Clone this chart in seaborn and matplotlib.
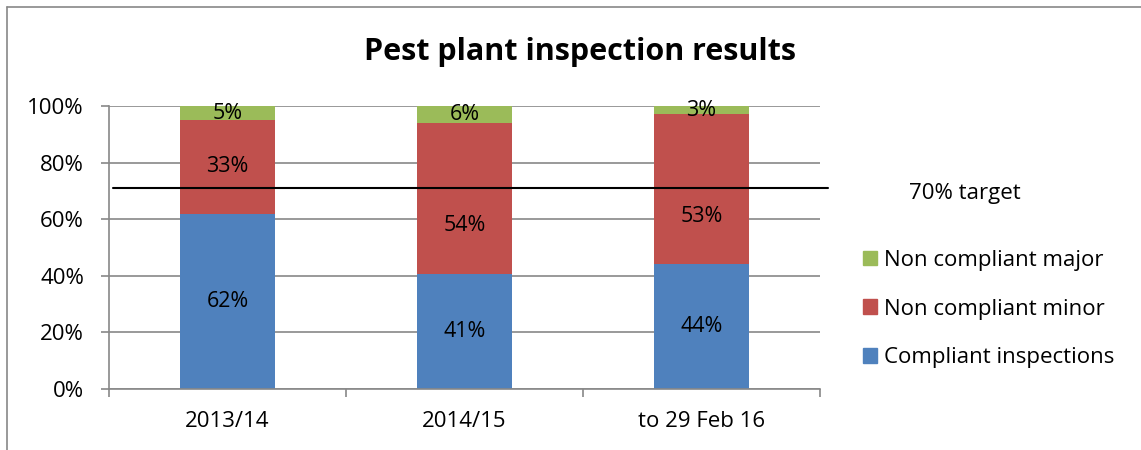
import pandas as pd
import seaborn as sns
import matplotlib.pyplot as plt
import matplotlib.transforms as mtransforms
from matplotlib.lines import Line2D
from matplotlib.patches import Patch
from matplotlib.ticker import PercentFormatter, FixedLocator

periods = ['2013/14', '2014/15', 'to 29 Feb 16']
compliant = [62, 41, 44]
minor = [33, 54, 53]
major = [5, 6, 3]
target_level = 71
target_label = '70% target'

blue = '#4F81BD'
red = '#C0504D'
green = '#9BBB59'
grid_gray = '#888888'

df = pd.DataFrame({'period': periods, 'compliant': compliant,
                   'minor': minor, 'major': major})
# 100% stacked: shares of each row total
total = df[['compliant', 'minor', 'major']].sum(axis=1)
df['c_top'] = df['compliant'] / total
df['m_top'] = (df['compliant'] + df['minor']) / total
df['all_top'] = (df['compliant'] + df['minor'] + df['major']) / total

sns.set_theme(style='white')
plt.rcParams['font.family'] = ['Open Sans', 'DejaVu Sans']
plt.rcParams['text.color'] = 'black'
plt.rcParams['xtick.color'] = 'black'
plt.rcParams['ytick.color'] = 'black'

fig = plt.figure(figsize=(11.41, 4.5), dpi=100)
ax = fig.add_axes([109 / 1141, 1 - 389 / 450, 711 / 1141, 283 / 450])

sns.barplot(data=df, x='period', y='all_top', color=green, saturation=1,
            width=0.4, linewidth=0, ax=ax)
sns.barplot(data=df, x='period', y='m_top', color=red, saturation=1,
            width=0.4, linewidth=0, ax=ax)
sns.barplot(data=df, x='period', y='c_top', color=blue, saturation=1,
            width=0.4, linewidth=0, ax=ax)

# labels that were dragged down off the target line in the original
minor_nudge = [0.0, -0.095, -0.096]

for i, row in df.iterrows():
    ax.text(i, row['c_top'] / 2, f"{row['compliant']}%", ha='center',
            va='center', fontsize=15.5, color='black')
    ax.text(i, (row['c_top'] + row['m_top']) / 2 + minor_nudge[i],
            f"{row['minor']}%", ha='center', va='center', fontsize=15.5,
            color='black')
    ax.text(i, (row['m_top'] + row['all_top']) / 2, f"{row['major']}%",
            ha='center', va='center', fontsize=15.5, color='black')

# target line, a bit past the plot area like the original
trans = mtransforms.blended_transform_factory(ax.transAxes, ax.transData)
ax.plot([0.006, 1.011], [target_level / 100] * 2, color='black', lw=1.5,
        transform=trans, clip_on=False, zorder=5)

ax.set_xlim(-0.5, 2.5)
ax.set_ylim(0, 1)
ax.set_yticks([0, 0.2, 0.4, 0.6, 0.8, 1.0])
ax.yaxis.set_major_formatter(PercentFormatter(1.0, decimals=0))
ax.grid(axis='y', color=grid_gray, lw=1.2)
ax.set_axisbelow(True)
ax.set_xlabel('')
ax.set_ylabel('')

# category boundaries get the tick marks, labels sit at centres
ax.xaxis.set_major_locator(FixedLocator([-0.5, 0.5, 1.5, 2.5]))
ax.xaxis.set_minor_locator(FixedLocator([0, 1, 2]))
ax.set_xticklabels([], minor=False)
ax.set_xticklabels(periods, minor=True)
ax.tick_params(axis='x', which='major', bottom=True, length=6, width=1.2,
               color=grid_gray, direction='out')
ax.tick_params(axis='x', which='minor', bottom=True, length=0, pad=16,
               labelsize=16)
ax.tick_params(axis='y', left=True, length=6, width=1.2, color=grid_gray,
               direction='out', pad=12, labelsize=16)

for side in ['top', 'right']:
    ax.spines[side].set_visible(False)
for side in ['left', 'bottom']:
    ax.spines[side].set_color(grid_gray)
    ax.spines[side].set_linewidth(1.2)

fig.text(580 / 1141, 1 - 52 / 450, 'Pest plant inspection results',
         ha='center', va='center', fontsize=22, fontweight='bold')
fig.text(909 / 1141, 1 - 193 / 450, target_label, ha='left', va='center',
         fontsize=16)

handles = [Patch(color=green), Patch(color=red), Patch(color=blue)]
names = ['Non compliant major', 'Non compliant minor', 'Compliant inspections']
fig.legend(handles, names, loc='center left',
           bbox_to_anchor=(863 / 1141, 1 - 309 / 450), frameon=False,
           fontsize=16, handlelength=0.65, handleheight=0.65,
           handletextpad=0.3, labelspacing=1.25, borderpad=0,
           borderaxespad=0)

# outer chart border (clipped at right and bottom in the original)
fig.add_artist(Line2D([7 / 1141, 1], [1 - 7 / 450] * 2, color=grid_gray,
                      lw=1.2, transform=fig.transFigure))
fig.add_artist(Line2D([7 / 1141] * 2, [0, 1 - 7 / 450], color=grid_gray,
                      lw=1.2, transform=fig.transFigure))

fig.savefig('out.png', dpi=100)
